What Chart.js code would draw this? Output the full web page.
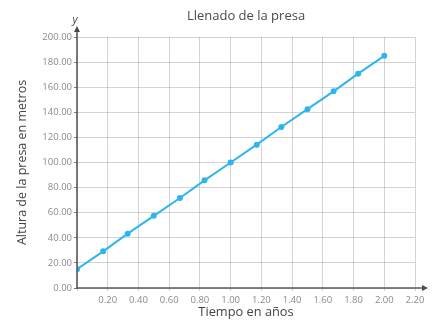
<!DOCTYPE html>
<html>
<head>
<meta charset="utf-8">
<script src="https://cdn.jsdelivr.net/npm/chart.js@4.4.1/dist/chart.umd.min.js"></script>
<style>
  html, body { margin: 0; padding: 0; background: #fff; }
  #wrap { width: 435px; height: 323px; }
</style>
</head>
<body>
<div id="wrap"><canvas id="c" width="435" height="323"></canvas></div>
<script>
// Time in years and dam water height in metres
const years = [0, 0.17, 0.33, 0.5, 0.67, 0.83, 1, 1.17, 1.33, 1.5, 1.67, 1.83, 2];
const heights = [15, 29.2, 43.3, 57.5, 71.7, 85.8, 100, 114.2, 128.3, 142.5, 156.7, 170.8, 185];

const chartTitle = 'Llenado de la presa';
const xTitle = 'Tiempo en años';
const yTitle = 'Altura de la presa en metros';

const FONT = '"Open Sans", "DejaVu Sans", sans-serif';
const LINE_BLUE = '#2fb5ec';

// Axis lines with arrowheads, plus the italic "y" label
const axesArrows = {
  id: 'axesArrows',
  afterDatasetsDraw(chart) {
    const { ctx, chartArea: a } = chart;
    ctx.save();
    ctx.strokeStyle = '#5a5a5a';
    ctx.fillStyle = '#4a4a4a';
    ctx.lineWidth = 1.6;
    // vertical axis
    ctx.beginPath();
    ctx.moveTo(a.left, a.bottom + 1);
    ctx.lineTo(a.left, a.top - 6);
    ctx.stroke();
    ctx.beginPath();
    ctx.moveTo(a.left, a.top - 11);
    ctx.lineTo(a.left - 3, a.top - 5);
    ctx.lineTo(a.left + 3, a.top - 5);
    ctx.closePath();
    ctx.fill();
    // horizontal axis
    ctx.beginPath();
    ctx.moveTo(a.left - 1, a.bottom);
    ctx.lineTo(a.right + 8, a.bottom);
    ctx.stroke();
    ctx.beginPath();
    ctx.moveTo(a.right + 13, a.bottom);
    ctx.lineTo(a.right + 7, a.bottom - 3);
    ctx.lineTo(a.right + 7, a.bottom + 3);
    ctx.closePath();
    ctx.fill();
    // axis name
    ctx.font = 'italic 11px ' + FONT;
    ctx.fillStyle = '#444';
    ctx.textAlign = 'center';
    ctx.textBaseline = 'middle';
    ctx.fillText('y', a.left - 2, a.top - 17);
    ctx.restore();
  }
};

new Chart(document.getElementById('c'), {
  type: 'line',
  data: {
    datasets: [{
      data: years.map((x, i) => ({ x, y: heights[i] })),
      borderColor: LINE_BLUE,
      backgroundColor: LINE_BLUE,
      borderWidth: 2,
      pointRadius: 2,
      pointHoverRadius: 2,
      tension: 0
    }]
  },
  options: {
    responsive: false,
    animation: false,
    events: [],
    layout: { padding: { left: 0, right: 20, top: 0, bottom: 0 } },
    plugins: {
      legend: { display: false },
      tooltip: { enabled: false },
      title: {
        display: true,
        text: chartTitle,
        fullSize: false,
        color: '#4a4a4a',
        font: { family: FONT, size: 13, weight: 'normal', lineHeight: 1 },
        padding: { top: 10, bottom: 14 }
      }
    },
    scales: {
      x: {
        type: 'linear',
        min: 0,
        max: 2.2,
        border: { display: false },
        grid: { color: 'rgba(0,0,0,0.17)', lineWidth: 1, tickLength: 3, tickColor: 'rgba(0,0,0,0.17)' },
        ticks: {
          stepSize: 0.2,
          color: '#8a8a8a',
          padding: 4,
          maxRotation: 0,
          autoSkip: false,
          font: { family: FONT, size: 9.5 },
          callback: (v) => (v === 0 ? '' : Number(v).toFixed(2))
        },
        title: {
          display: true,
          text: xTitle,
          color: '#444',
          font: { family: FONT, size: 12.8 },
          padding: { top: 2, bottom: 3 }
        },
        afterFit(scale) { scale.height = 35; }
      },
      y: {
        type: 'linear',
        min: 0,
        max: 200,
        border: { display: false },
        grid: { color: 'rgba(0,0,0,0.17)', lineWidth: 1, tickLength: 3, tickColor: '#777' },
        ticks: {
          stepSize: 20,
          color: '#8a8a8a',
          padding: 2,
          font: { family: FONT, size: 9.5 },
          callback: (v) => Number(v).toFixed(2)
        },
        title: {
          display: true,
          text: yTitle,
          color: '#444',
          font: { family: FONT, size: 12.5 },
          padding: { top: 15, bottom: 0 }
        },
        afterFit(scale) { scale.width = 77; }
      }
    }
  },
  plugins: [axesArrows]
});
</script>
</body>
</html>
